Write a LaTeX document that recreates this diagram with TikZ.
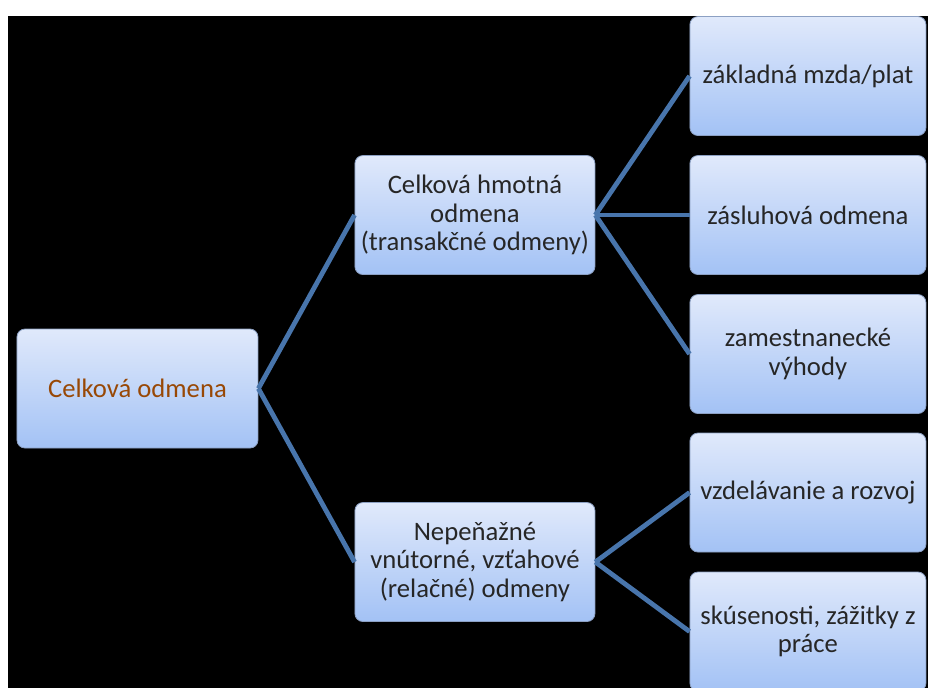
\documentclass[tikz,border=0pt]{standalone}
\usepackage{fontspec}
\setmainfont{Carlito}
\usepackage{tikz}
\usetikzlibrary{positioning}

\definecolor{boxtop}{RGB}{224,233,251}
\definecolor{boxbottom}{RGB}{163,194,245}
\definecolor{boxline}{RGB}{140,160,195}
\definecolor{linkblue}{RGB}{72,117,172}
\definecolor{roottext}{RGB}{152,72,6}
\definecolor{boxtext}{RGB}{38,38,38}

\begin{document}
\begin{tikzpicture}[
            grow' = right,
            level 1/.style = {sibling distance = 260.25pt, level distance = 253.1pt},
            level 2/.style = {sibling distance = 104.25pt, level distance = 249.75pt},
            edge from parent/.style = {draw = linkblue, line width = 3.6pt},
            edge from parent path = {(\tikzparentnode.east) -- (\tikzchildnode.west)},
            every node/.style = {
                draw = boxline,
                line width = 0.6pt,
                rectangle,
                rounded corners = 6pt,
                top color = boxtop,
                bottom color = boxbottom,
                align = center,
                text = boxtext,
                minimum width = 180pt,
                minimum height = 89.25pt,
                inner sep = 0pt,
                font = \fontsize{20}{21.5}\selectfont
            },
            root/.style = {
                minimum width = 180.75pt,
                text = roottext
            },
            leaf/.style = {
                minimum width = 177pt
            }
        ]
            % page and black backdrop
            \useasboundingbox (0,0) rectangle (696pt,-516pt);
            \fill[white] (0,0) rectangle (696pt,-516pt);
            \fill[black] (6pt,-12pt) rectangle (696pt,-516pt);

            \node[root] (total) at (103.1pt,-291.4pt) {Celková odmena}
                child {
                    node (tangible) {
                        Celková hmotná \\
                        odmena \\
                        (transakčné odmeny)
                    }
                    child {
                        node[leaf] (wage) {základná mzda/plat}
                    }
                    child {
                        node[leaf] (merit) {zásluhová odmena}
                    }
                    child {
                        node[leaf] (benefits) {
                            zamestnanecké \\
                            výhody
                        }
                    }
                }
                child {
                    node (relational) {
                        Nepeňažné \\
                        vnútorné, vzťahové \\
                        (relačné) odmeny
                    }
                    child {
                        node[leaf] (growth) {vzdelávanie a rozvoj}
                    }
                    child {
                        node[leaf] (experience) {
                            skúsenosti, zážitky z \\
                            práce
                        }
                    }
                };
        \end{tikzpicture}
\end{document}
